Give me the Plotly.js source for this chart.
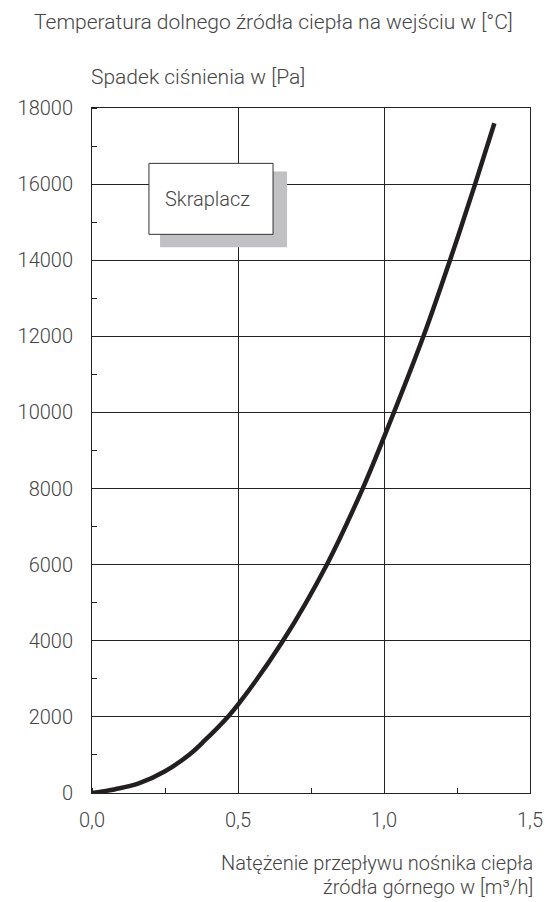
<!DOCTYPE html>
<html>
<head>
<meta charset="utf-8">
<script src="https://cdn.plot.ly/plotly-3.0.1.min.js"></script>
<style>
html,body{margin:0;padding:0;background:#fff;}
#chart{width:552px;height:902px;}
</style>
</head>
<body>
<div id="chart"></div>
<script>
// Data
const flow = [0, 0.08, 0.16, 0.25, 0.335, 0.386, 0.465, 0.5, 0.654, 0.804, 0.927, 1.0, 1.135, 1.226, 1.312, 1.378];
const pressureDrop = [0, 100, 250, 570, 1020, 1380, 2000, 2320, 4000, 6000, 8000, 9350, 12000, 14000, 16000, 17600];
const xTickVals = [0, 0.5, 1.0, 1.5];
const xTickText = ['0,0', '0,5', '1,0', '1,5'];
const yTickVals = [0, 2000, 4000, 6000, 8000, 10000, 12000, 14000, 16000, 18000];
const yTickText = ['0', '2000', '4000', '6000', '8000', '10000', '12000', '14000', '16000', '18000'];
const topTitle = 'Temperatura dolnego źródła ciepła na wejściu w [°C]';
const yTitle = 'Spadek ciśnienia w [Pa]';
const xTitleLines = ['Natężenie przepływu nośnika ciepła', 'źródła górnego w [m³/h]'];
const seriesName = 'Skraplacz';

const FONT = 'Roboto, "Liberation Sans", Arial, sans-serif';
const TXT = '#444444';
const W = 300;

const trace = {
  x: flow, y: pressureDrop, type: 'scatter', mode: 'lines',
  line: {color: '#231f20', width: 4.5, shape: 'spline', smoothing: 1},
  hoverinfo: 'skip', showlegend: false
};

const f = (s) => ({family: FONT, size: s, color: TXT, weight: W});

const layout = {
  width: 552, height: 902,
  margin: {l: 92, r: 22, t: 108, b: 109},
  paper_bgcolor: '#fff', plot_bgcolor: '#fff',
  font: f(18),
  showlegend: false,
  xaxis: {
    range: [0, 1.5], tickvals: xTickVals, ticktext: xTickText,
    showgrid: true, gridcolor: '#222', gridwidth: 1,
    showline: true, linecolor: '#222', linewidth: 1, mirror: true,
    ticks: '', zeroline: false, ticklabelstandoff: 9,
    tickfont: f(20),
    minor: {dtick: 0.25, tick0: 0, ticks: 'inside', ticklen: 5, tickcolor: '#222', tickwidth: 1, showgrid: false}
  },
  yaxis: {
    range: [0, 18000], tickvals: yTickVals, ticktext: yTickText,
    showgrid: true, gridcolor: '#222', gridwidth: 1,
    showline: true, linecolor: '#222', linewidth: 1, mirror: true,
    ticks: '', zeroline: false, ticklabelstandoff: 14,
    tickfont: f(20),
    minor: {dtick: 1000, tick0: 0, ticks: 'inside', ticklen: 5, tickcolor: '#222', tickwidth: 1, showgrid: false}
  },
  shapes: [
    {type: 'rect', xref: 'x', yref: 'y', x0: 0.233, x1: 0.668, y0: 14340, y1: 16330,
     fillcolor: '#c1c1c4', line: {width: 0}, layer: 'above'},
    {type: 'rect', xref: 'x', yref: 'y', x0: 0.195, x1: 0.62, y0: 14680, y1: 16545,
     fillcolor: '#ffffff', line: {color: '#333', width: 1}, layer: 'above'}
  ],
  annotations: [
    {text: topTitle, xref: 'paper', yref: 'paper', x: 0.5, y: 1, xanchor: 'center', yanchor: 'middle',
     yshift: 86, xshift: -38, showarrow: false, font: f(21)},
    {text: yTitle, xref: 'paper', yref: 'paper', x: 0, y: 1, xanchor: 'left', yanchor: 'middle',
     yshift: 31, xshift: -3, showarrow: false, font: f(21)},
    {text: xTitleLines[0], xref: 'paper', yref: 'paper', x: 1, y: 0, xanchor: 'right', yanchor: 'middle',
     yshift: -70, xshift: 5, showarrow: false, font: f(20)},
    {text: xTitleLines[1], xref: 'paper', yref: 'paper', x: 1, y: 0, xanchor: 'right', yanchor: 'middle',
     yshift: -94, xshift: 5, showarrow: false, font: f(20)},
    {text: seriesName, xref: 'x', yref: 'y', x: 0.4075, y: 15610, xanchor: 'center', yanchor: 'middle',
     xshift: -3, showarrow: false, font: f(20)}
  ]
};

Plotly.newPlot('chart', [trace], layout, {displayModeBar: false, staticPlot: true});
</script>
</body>
</html>
